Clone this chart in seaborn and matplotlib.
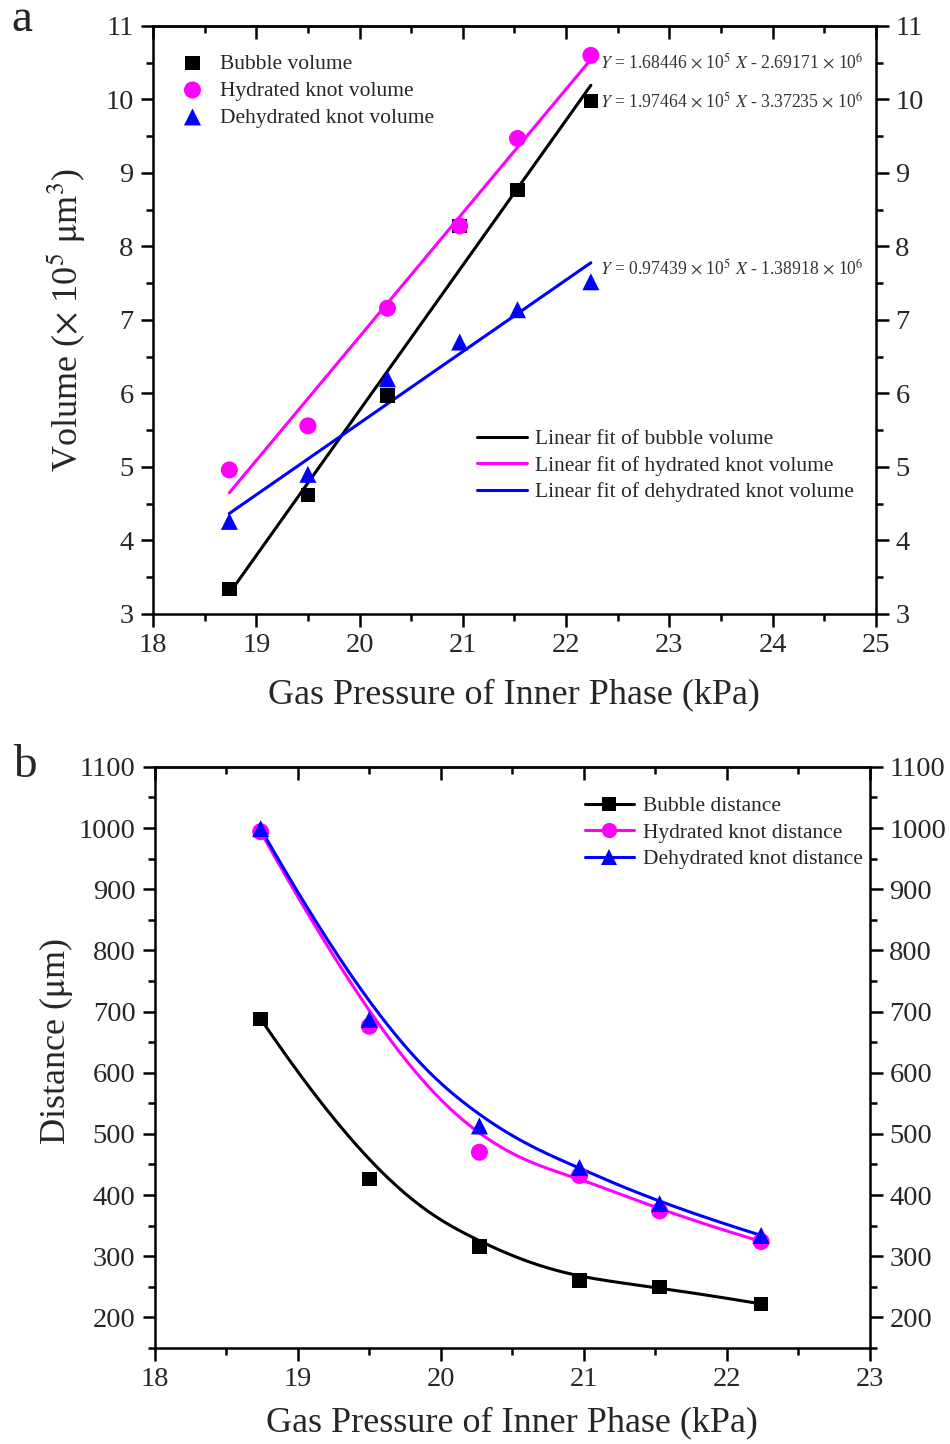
import numpy as np
import pandas as pd
import matplotlib
matplotlib.use("Agg")
import matplotlib.pyplot as plt
import seaborn as sns
from matplotlib.ticker import MultipleLocator
from matplotlib.lines import Line2D

sns.set_theme(style="white")
plt.rcParams['font.family'] = ['Liberation Serif', 'DejaVu Serif']
plt.rcParams['mathtext.fontset'] = 'stix'

# ---------------- data ----------------
pressure = [18.74, 19.50, 20.27, 20.97, 21.53, 22.24]

bubble_volume = [3.34, 4.62, 5.97, 8.28, 8.77, 9.98]
hydrated_volume = [4.96, 5.56, 7.16, 8.28, 9.47, 10.60]
dehydrated_volume = [4.26, 4.90, 6.20, 6.70, 7.14, 7.52]

# linear fit coefficients (slope ×1e5, intercept ×1e6)
fit_bubble = (1.97464, 3.37235)
fit_hydrated = (1.68446, 2.69171)
fit_dehydrated = (0.97439, 1.38918)

bubble_distance = [688, 426, 316, 260, 250, 222]
hydrated_distance = [994, 676, 470, 432, 374, 324]
dehydrated_distance = [999, 687, 513, 445, 386, 334]

vol_labels = ["Bubble volume", "Hydrated knot volume", "Dehydrated knot volume"]
fit_labels = ["Linear fit of bubble volume", "Linear fit of hydrated knot volume",
              "Linear fit of dehydrated knot volume"]
dist_labels = ["Bubble distance", "Hydrated knot distance", "Dehydrated knot distance"]
colors = ["#000000", "#ff00ff", "#0000ff"]
markers = ["s", "o", "^"]


def bspline(xs, ys, n=200, k=3):
    """Clamped uniform B-spline using data points as control points."""
    P = np.column_stack([xs, ys]).astype(float)
    m = len(P)
    inner = np.arange(1, m - k)
    knots = np.concatenate([np.zeros(k + 1), inner, np.full(k + 1, m - k)]).astype(float)
    ts = np.linspace(0, m - k, n)
    out = []
    for t in ts:
        if t >= knots[-1]:
            out.append(P[-1]); continue
        N = np.zeros(len(knots) - 1)
        for i in range(len(knots) - 1):
            N[i] = 1.0 if knots[i] <= t < knots[i + 1] else 0.0
        for d in range(1, k + 1):
            Nn = np.zeros(len(knots) - 1 - d)
            for i in range(len(Nn)):
                a = 0.0
                if knots[i + d] != knots[i]:
                    a = (t - knots[i]) / (knots[i + d] - knots[i]) * N[i]
                b = 0.0
                if knots[i + d + 1] != knots[i + 1]:
                    b = (knots[i + d + 1] - t) / (knots[i + d + 1] - knots[i + 1]) * N[i + 1]
                Nn[i] = a + b
            N = Nn
        out.append(N[:m] @ P)
    out = np.array(out)
    return out[:, 0], out[:, 1]


fig = plt.figure(figsize=(9.5, 14.44), dpi=100)
ax1 = fig.add_axes([0.161, 0.5748, 0.761, 0.4072])
ax2 = fig.add_axes([0.163, 0.0665, 0.7526, 0.4024])

TICK_FS = 20.5
LAB_FS = 26

# ---------------- panel a ----------------
vol_sets = [bubble_volume, hydrated_volume, dehydrated_volume]
fits = [fit_bubble, fit_hydrated, fit_dehydrated]
xr = np.array([min(pressure), max(pressure)])
for lab, flab, ys, fit, c, mk in zip(vol_labels, fit_labels, vol_sets, fits, colors, markers):
    fitdf = pd.DataFrame({"x": xr, "y": fit[0] * xr - fit[1] * 10})
    sns.lineplot(data=fitdf, x="x", y="y", ax=ax1, color=c, lw=2.2, label=flab)
for lab, ys, c, mk in zip(vol_labels, vol_sets, colors, markers):
    df = pd.DataFrame({"x": pressure, "y": ys})
    sns.scatterplot(data=df, x="x", y="y", ax=ax1, color=c, marker=mk,
                    s=150 if mk != "s" else 110, edgecolor="none", label=lab, zorder=3)

ax1.set_xlim(18, 25)
ax1.set_ylim(3, 11)
ax1.xaxis.set_major_locator(MultipleLocator(1))
ax1.xaxis.set_minor_locator(MultipleLocator(0.5))
ax1.yaxis.set_major_locator(MultipleLocator(1))
ax1.yaxis.set_minor_locator(MultipleLocator(0.5))
ax1.set_xlabel("Gas Pressure of Inner Phase (kPa)", fontsize=LAB_FS, labelpad=14)
ax1.set_ylabel(r"Volume ($\times$ 10$^5$ $\mathrm{\mu}$m$^3$)", fontsize=LAB_FS, labelpad=12)

eqs = [
    (r"$Y$ = 1.68446 $\times$ 10$^5$ $X$ - 2.69171 $\times$ 10$^6$", 10.50),
    (r"$Y$ = 1.97464 $\times$ 10$^5$ $X$ - 3.37235 $\times$ 10$^6$", 9.97),
    (r"$Y$ = 0.97439 $\times$ 10$^5$ $X$ - 1.38918 $\times$ 10$^6$", 7.70),
]
for txt, yy in eqs:
    ax1.text(22.33, yy, txt, fontsize=12.7, va="center", ha="left", color="#333333")

h, l = ax1.get_legend_handles_labels()
leg_pts = ax1.legend(h[3:], l[3:], loc="upper left", bbox_to_anchor=(0.007, 0.975),
                     frameon=False, fontsize=15.5, handletextpad=0.3, labelspacing=0.32,
                     borderaxespad=0.2)
ax1.add_artist(leg_pts)
ax1.legend(h[:3], l[:3], loc="lower right", bbox_to_anchor=(0.988, 0.168),
           frameon=False, fontsize=15.5, handlelength=2.3, handletextpad=0.4,
           labelspacing=0.3, borderaxespad=0.2)

# ---------------- panel b ----------------
dist_sets = [bubble_distance, hydrated_distance, dehydrated_distance]
handles = []
for lab, ys, c, mk in zip(dist_labels, dist_sets, colors, markers):
    sx, sy = bspline(pressure, ys)
    sns.lineplot(x=sx, y=sy, ax=ax2, color=c, lw=2.2, sort=False, estimator=None)
    sns.scatterplot(x=pressure, y=ys, ax=ax2, color=c, marker=mk,
                    s=150 if mk != "s" else 110, edgecolor="none", zorder=3)
    handles.append(Line2D([], [], color=c, lw=2.2, marker=mk, markersize=11 if mk != "s" else 9.5,
                          markeredgewidth=0))
ax2.legend(handles, dist_labels, loc="upper right", bbox_to_anchor=(1.008, 0.972),
           frameon=False, fontsize=15.5, handlelength=2.3, handletextpad=0.4,
           labelspacing=0.3, borderaxespad=0.2)

ax2.set_xlim(18, 23)
ax2.set_ylim(150, 1100)
ax2.xaxis.set_major_locator(MultipleLocator(1))
ax2.xaxis.set_minor_locator(MultipleLocator(0.5))
ax2.yaxis.set_major_locator(MultipleLocator(100))
ax2.yaxis.set_minor_locator(MultipleLocator(50))
ax2.set_xlabel("Gas Pressure of Inner Phase (kPa)", fontsize=LAB_FS, labelpad=10)
ax2.set_ylabel(r"Distance ($\mathrm{\mu}$m)", fontsize=LAB_FS)
ax2.yaxis.set_label_coords(-0.112, 0.528)

for ax in (ax1, ax2):
    for s in ax.spines.values():
        s.set_visible(True)
        s.set_color("black")
        s.set_linewidth(1.8)
    ax.tick_params(axis="both", which="both", direction="out", color="black",
                   labelsize=TICK_FS, left=True, right=True, bottom=True,
                   labelleft=True, labelright=True, width=1.8, pad=5)
    ax.tick_params(which="major", length=9)
    ax.tick_params(which="minor", length=5)
    top = ax.secondary_xaxis("top")
    top.xaxis.set_major_locator(MultipleLocator(1))
    top.xaxis.set_minor_locator(MultipleLocator(0.5))
    top.tick_params(which="both", direction="in", labeltop=False, width=1.8, color="black")
    top.tick_params(which="major", length=9)
    top.tick_params(which="minor", length=5)
    top.spines["top"].set_linewidth(1.8)
    ax.set_facecolor("white")

fig.text(0.012, 0.986, "a", fontsize=34, va="center", ha="left")
fig.text(0.014, 0.470, "b", fontsize=34, va="center", ha="left")

fig.savefig("out.png", dpi=100, facecolor="white")
